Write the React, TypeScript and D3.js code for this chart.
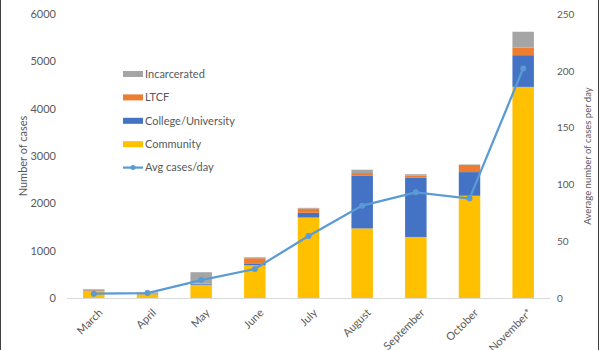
import React, { useEffect, useRef } from "react";
import * as d3 from "d3";

const months = ["March", "April", "May", "June", "July", "August", "September", "October", "November*"];
const community = [150, 80, 280, 690, 1700, 1470, 1290, 2160, 4460];
const college = [10, 10, 20, 30, 100, 1110, 1250, 500, 670];
const ltcf = [10, 10, 5, 120, 90, 60, 50, 150, 160];
const incarcerated = [15, 20, 240, 20, 15, 70, 25, 10, 335];
const avgPerDay = [3.8, 4.4, 15.8, 25.5, 54.6, 81.3, 93, 87.5, 202];

const leftTicks = [0, 1000, 2000, 3000, 4000, 5000, 6000];
const rightTicks = [0, 50, 100, 150, 200, 250];

const seriesKeys = ["community", "college", "ltcf", "incarcerated"];
const seriesColors: Record<string, string> = {
  community: "#FFC000",
  college: "#4472C4",
  ltcf: "#ED7D31",
  incarcerated: "#A5A5A5",
};
const legendItems = [
  { label: "Incarcerated", key: "incarcerated" },
  { label: "LTCF", key: "ltcf" },
  { label: "College/University", key: "college" },
  { label: "Community", key: "community" },
  { label: "Avg cases/day", key: "line" },
];

const W = 600;
const H = 350;
const margin = { top: 14, right: 50, bottom: 52, left: 67 };
const lineColor = "#5B9BD5";
const textColor = "#595959";
const font = "Lato, 'Open Sans', sans-serif";

const App: React.FC = () => {
  const svgRef = useRef<SVGSVGElement>(null);

  useEffect(() => {
    const svg = d3.select(svgRef.current);
    svg.selectAll("*").remove();

    const innerW = W - margin.left - margin.right;
    const innerH = H - margin.top - margin.bottom;

    const table = months.map((m, i) => ({
      month: m,
      community: community[i],
      college: college[i],
      ltcf: ltcf[i],
      incarcerated: incarcerated[i],
    }));

    const x = d3.scaleBand().domain(months).range([0, innerW]).paddingInner(0.6).paddingOuter(0.3);
    const yL = d3.scaleLinear().domain([0, 6000]).range([innerH, 0]);
    const yR = d3.scaleLinear().domain([0, 250]).range([innerH, 0]);

    svg.append("rect").attr("width", W).attr("height", H).attr("fill", "#fff");
    // frame edges
    svg.append("line").attr("x1", 0.5).attr("x2", 0.5).attr("y1", 0).attr("y2", H).attr("stroke", "#404040");
    svg.append("line").attr("x1", W - 1.5).attr("x2", W - 1.5).attr("y1", 0).attr("y2", H).attr("stroke", "#404040");

    const chart = svg.append("g").attr("transform", `translate(${margin.left},${margin.top})`);

    const stack = d3.stack<any>().keys(seriesKeys)(table);
    chart
      .selectAll(".layer")
      .data(stack)
      .enter()
      .append("g")
      .attr("fill", (d) => seriesColors[d.key])
      .selectAll("rect")
      .data((d) => d)
      .enter()
      .append("rect")
      .attr("x", (d) => x(d.data.month) as number)
      .attr("y", (d) => yL(d[1]))
      .attr("width", x.bandwidth())
      .attr("height", (d) => yL(d[0]) - yL(d[1]));

    // baseline
    chart
      .append("line")
      .attr("x1", 0)
      .attr("x2", innerW)
      .attr("y1", innerH + 0.5)
      .attr("y2", innerH + 0.5)
      .attr("stroke", "#D9D9D9");

    // left axis
    const leftAxis = chart
      .append("g")
      .call(d3.axisLeft(yL).tickValues(leftTicks).tickSize(0).tickPadding(11).tickFormat(d3.format("d")));
    leftAxis.select(".domain").remove();
    leftAxis.selectAll("text").attr("fill", textColor).style("font-size", "11px").style("font-family", font);

    // right axis
    const rightAxis = chart
      .append("g")
      .attr("transform", `translate(${innerW},0)`)
      .call(d3.axisRight(yR).tickValues(rightTicks).tickSize(0).tickPadding(7));
    rightAxis.select(".domain").remove();
    rightAxis.selectAll("text").attr("fill", textColor).style("font-size", "10px").style("font-family", font);

    // x labels
    chart
      .selectAll(".xlabel")
      .data(months)
      .enter()
      .append("text")
      .attr("transform", (d) => `translate(${(x(d) as number) + x.bandwidth() / 2 + 4},${innerH + 10}) rotate(-45)`)
      .attr("text-anchor", "end")
      .attr("dy", "0.7em")
      .attr("fill", textColor)
      .style("font-size", "11px")
      .style("font-family", font)
      .text((d) => d);

    // line
    const pts = months.map((m, i) => [(x(m) as number) + x.bandwidth() / 2, yR(avgPerDay[i])] as [number, number]);
    chart.append("path").attr("d", d3.line()(pts)).attr("fill", "none").attr("stroke", lineColor).attr("stroke-width", 2.25);
    chart
      .selectAll(".pt")
      .data(pts)
      .enter()
      .append("circle")
      .attr("cx", (d) => d[0])
      .attr("cy", (d) => d[1])
      .attr("r", 3)
      .attr("fill", lineColor);

    // axis titles
    svg
      .append("text")
      .attr("transform", `translate(27,${margin.top + innerH / 2}) rotate(-90)`)
      .attr("text-anchor", "middle")
      .attr("fill", textColor)
      .style("font-size", "11px")
      .style("font-family", font)
      .text("Number of cases");
    svg
      .append("text")
      .attr("transform", `translate(591,${margin.top + innerH / 2}) rotate(-90)`)
      .attr("text-anchor", "middle")
      .attr("fill", textColor)
      .style("font-size", "9.5px")
      .style("font-family", font)
      .text("Average number of cases per day");

    // legend
    const legend = svg.append("g").attr("transform", "translate(123,74)");
    legendItems.forEach((item, i) => {
      const g = legend.append("g").attr("transform", `translate(0,${i * 23.4})`);
      if (item.key === "line") {
        g.append("line").attr("x1", 0).attr("x2", 20).attr("y1", 0).attr("y2", 0).attr("stroke", lineColor).attr("stroke-width", 2.25);
        g.append("circle").attr("cx", 10).attr("cy", 0).attr("r", 2.5).attr("fill", lineColor);
      } else {
        g.append("rect").attr("x", 0).attr("y", -3).attr("width", 20).attr("height", 6).attr("fill", seriesColors[item.key]);
      }
      g.append("text")
        .attr("x", 22)
        .attr("y", 0)
        .attr("dy", "0.35em")
        .attr("fill", textColor)
        .style("font-size", "11px")
        .style("font-family", font)
        .text(item.label);
    });
  }, []);

  return <svg ref={svgRef} width={W} height={H} style={{ position: "fixed", left: 0, top: 0 }}></svg>;
};

export default App;
